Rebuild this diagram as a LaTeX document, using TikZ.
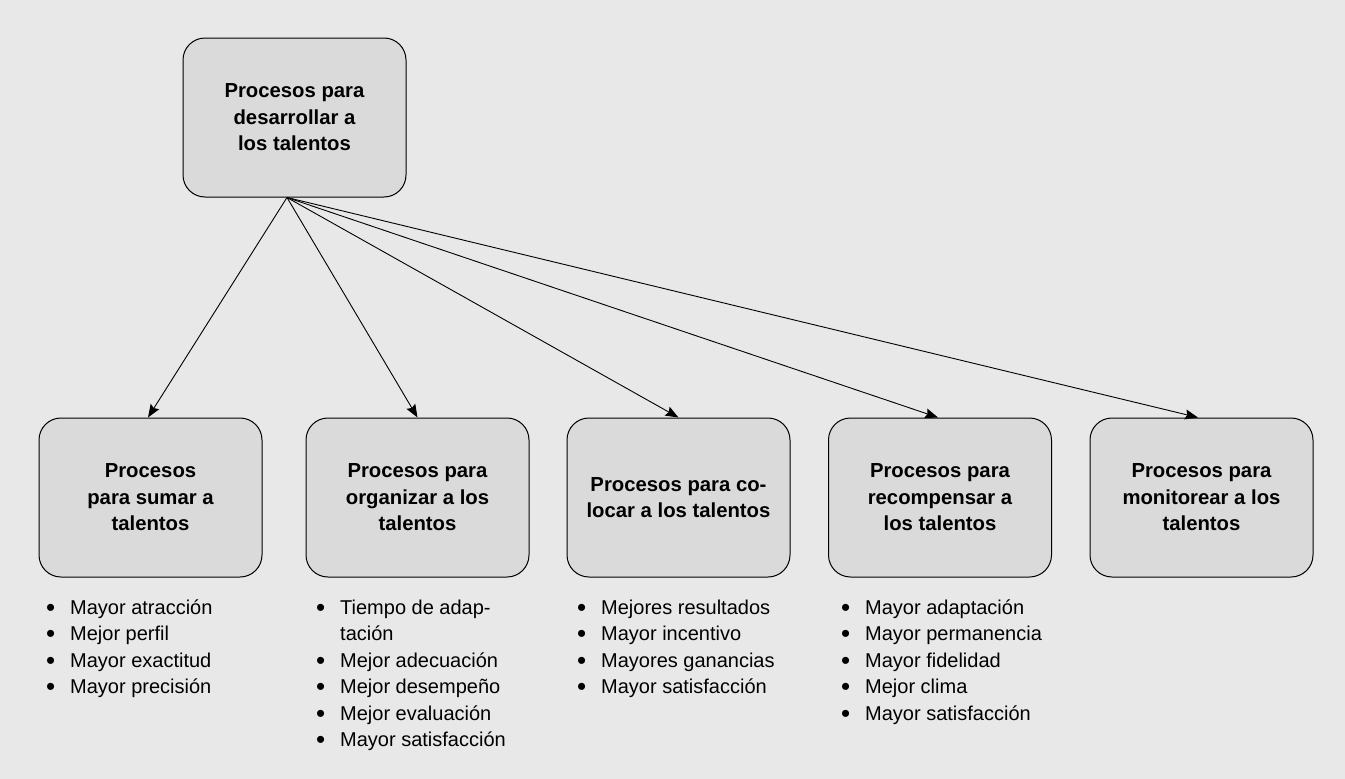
\documentclass[tikz,border=0pt]{standalone}
\usepackage{fontspec}
\setmainfont{Liberation Sans}
\usetikzlibrary{arrows.meta}
\definecolor{bgcol}{HTML}{E8E8E8}
\definecolor{boxcol}{HTML}{DADADA}
\newcommand\itm[1]{\makebox[24pt][l]{\raisebox{-2pt}{\fontsize{26}{26}\selectfont •}}#1}
\newcommand\cnt[1]{\hspace*{24pt}#1}
\tikzset{
  procbox/.style={draw=black, line width=1pt, fill=boxcol, rounded corners=22pt,
    minimum width=223pt, minimum height=159pt, inner sep=0pt, align=center,
    font=\fontsize{20.3}{26.5}\selectfont\bfseries},
  listnode/.style={inner sep=0pt, anchor=base west,
    font=\fontsize{20}{26.5}\selectfont},
  arr/.style={line width=0.9pt, -{Stealth[length=13pt,width=10pt,inset=2pt]}}
}
\begin{document}
\begin{tikzpicture}[x=1pt,y=-1pt]
\fill[bgcol] (0,0) rectangle (1345,779);
\useasboundingbox (0,0) rectangle (1345,779);

\node[procbox] (top) at (294.5,117.5) {Procesos para\\desarrollar a\\los talentos};

\node[procbox] (b1) at (150.5,497.5) {Procesos\\para sumar a\\talentos};
\node[procbox] (b2) at (417.5,497.5) {Procesos para\\organizar a los\\talentos};
\node[procbox] (b3) at (678.5,497.5) {Procesos para co-\\locar a los talentos};
\node[procbox] (b4) at (940,497.5) {Procesos para\\recompensar a\\los talentos};
\node[procbox] (b5) at (1201.5,497.5) {Procesos para\\monitorear a los\\talentos};

\coordinate (src) at ([xshift=-7.5pt]top.south);
\draw[arr] (src) -- ([xshift=-2.5pt]b1.north);
\draw[arr] (src) -- (b2.north);
\draw[arr] (src) -- (b3.north);
\draw[arr] (src) -- ([xshift=-2pt]b4.north);
\draw[arr] (src) -- ([xshift=-3.5pt]b5.north);

\node[listnode] (l1) at (46,614) {\begin{tabular}[t]{@{}l@{}}
\itm{Mayor atracción}\\
\itm{Mejor perfil}\\
\itm{Mayor exactitud}\\
\itm{Mayor precisión}
\end{tabular}};

\node[listnode] (l2) at (316,614) {\begin{tabular}[t]{@{}l@{}}
\itm{Tiempo de adap-}\\
\cnt{tación}\\
\itm{Mejor adecuación}\\
\itm{Mejor desempeño}\\
\itm{Mejor evaluación}\\
\itm{Mayor satisfacción}
\end{tabular}};

\node[listnode] (l3) at (577,614) {\begin{tabular}[t]{@{}l@{}}
\itm{Mejores resultados}\\
\itm{Mayor incentivo}\\
\itm{Mayores ganancias}\\
\itm{Mayor satisfacción}
\end{tabular}};

\node[listnode] (l4) at (841,614) {\begin{tabular}[t]{@{}l@{}}
\itm{Mayor adaptación}\\
\itm{Mayor permanencia}\\
\itm{Mayor fidelidad}\\
\itm{Mejor clima}\\
\itm{Mayor satisfacción}
\end{tabular}};
\end{tikzpicture}
\end{document}
